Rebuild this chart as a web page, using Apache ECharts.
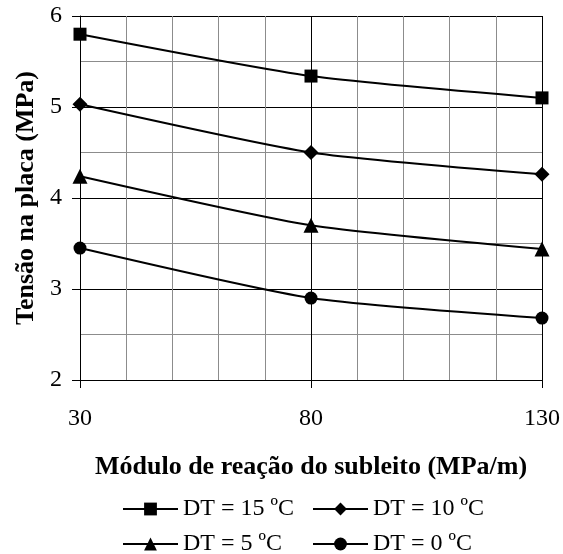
<!DOCTYPE html>
<html>
<head>
<meta charset="utf-8">
<script src="https://cdn.jsdelivr.net/npm/echarts@6/dist/echarts.min.js"></script>
<style>
  html, body { margin: 0; background: #fff; }
  #chart { width: 563px; height: 554px; }
</style>
</head>
<body>
<div id="chart"></div>
<script>
// Módulo de reação do subleito (MPa/m)
const modulos = [30, 80, 130];
// Tensão na placa (MPa) for each temperature difference
const dt15 = [5.80, 5.34, 5.10];
const dt10 = [5.03, 4.50, 4.26];
const dt5 = [4.24, 3.70, 3.44];
const dt0 = [3.45, 2.90, 2.68];
const seriesNames = ["DT = 15 ºC", "DT = 10 ºC", "DT = 5 ºC", "DT = 0 ºC"];
const xLabels = [30, 80, 130];
const yLabels = [2, 3, 4, 5, 6];

const font = "'Liberation Serif', 'Times New Roman', serif";

let myChart = echarts.init(document.getElementById("chart"), null, { renderer: "canvas" });

function makeSeries(name, values, symbol, size) {
  return {
    name: name,
    type: "line",
    smooth: 0.2,
    symbol: symbol,
    symbolSize: size,
    data: modulos.map((m, i) => [m, values[i]]),
    itemStyle: { color: "#000" },
    lineStyle: { color: "#000", width: 2 },
    z: 5,
  };
}

function legendAt(name, left, top) {
  return {
    data: [name],
    left: left,
    top: top,
    itemWidth: 55,
    itemHeight: 16,
    selectedMode: false,
    textStyle: { fontFamily: font, fontSize: 24, color: "#000" },
  };
}

// grey minor grid (axis 0) + black major grid, labels, ticks (axis 1)
let option = {
  animation: false,
  backgroundColor: "#fff",
  textStyle: { fontFamily: font },
  grid: { left: 80, top: 16, right: 21, bottom: 174 },
  xAxis: [
    {
      type: "value",
      min: 30,
      max: 130,
      interval: 10,
      axisLine: { show: false },
      axisTick: { show: false },
      axisLabel: { show: false },
      splitLine: { show: true, lineStyle: { color: "#8c8c8c", width: 1 } },
    },
    {
      type: "value",
      min: 30,
      max: 130,
      position: "bottom",
      name: "Módulo de reação do subleito (MPa/m)",
      nameLocation: "middle",
      nameGap: 74,
      nameTextStyle: { fontFamily: font, fontSize: 26, fontWeight: "bold", color: "#000" },
      axisLine: { show: true, onZero: false, lineStyle: { color: "#000", width: 1 } },
      axisTick: { show: true, customValues: xLabels, length: 8, lineStyle: { color: "#000" } },
      axisLabel: { customValues: xLabels, margin: 27, fontFamily: font, fontSize: 24, color: "#000" },
      splitLine: { show: true, lineStyle: { color: "#000", width: 1 } },
    },
  ],
  yAxis: [
    {
      type: "value",
      min: 2,
      max: 6,
      interval: 0.5,
      axisLine: { show: false },
      axisTick: { show: false },
      axisLabel: { show: false },
      splitLine: { show: true, lineStyle: { color: "#8c8c8c", width: 1 } },
    },
    {
      type: "value",
      min: 2,
      max: 6,
      position: "left",
      name: "Tensão na placa (MPa)",
      nameLocation: "middle",
      nameGap: 41,
      nameTextStyle: { fontFamily: font, fontSize: 26, fontWeight: "bold", color: "#000" },
      axisLine: { show: true, onZero: false, lineStyle: { color: "#000", width: 1 } },
      axisTick: { show: true, customValues: yLabels, length: 8, lineStyle: { color: "#000" } },
      axisLabel: { customValues: yLabels, margin: 18, fontFamily: font, fontSize: 24, color: "#000" },
      splitLine: { show: true, lineStyle: { color: "#000", width: 1 } },
    },
  ],
  legend: [
    legendAt(seriesNames[0], 117, 492),
    legendAt(seriesNames[1], 307, 492),
    legendAt(seriesNames[2], 117, 527),
    legendAt(seriesNames[3], 307, 527),
  ],
  series: [
    makeSeries(seriesNames[0], dt15, "rect", 13),
    makeSeries(seriesNames[1], dt10, "diamond", 15),
    makeSeries(seriesNames[2], dt5, "triangle", 15),
    makeSeries(seriesNames[3], dt0, "circle", 13),
  ],
};

myChart.setOption(option);
</script>
</body>
</html>
